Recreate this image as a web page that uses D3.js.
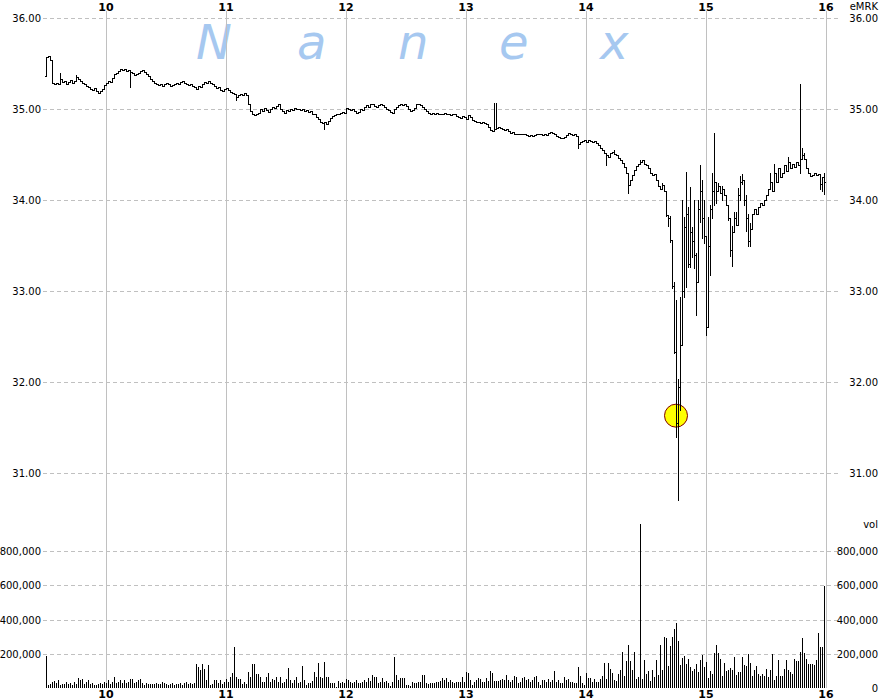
<!DOCTYPE html>
<html><head><meta charset="utf-8">
<script src="https://cdn.jsdelivr.net/npm/d3@7"></script>
<style>html,body{margin:0;padding:0;background:#fff;}svg{display:block}</style>
</head><body><svg id="c" width="880" height="700"></svg>
<script>
// ---------- data ----------
const symbol = "eMRK";
const volLabel = "vol";
const hourTicks = [10, 11, 12, 13, 14, 15, 16];
const priceTicks = [31, 32, 33, 34, 35, 36];
const volTicks = [200000, 400000, 600000, 800000];
const volRightTicks = [0, 200000, 400000, 600000, 800000];
const watermark = ["N", "a", "n", "e", "x"];
const sessionStart = 9.5;           // 9:30, one bar per minute
const firstOpen = 35.36;
const closes = [
35.57,35.58,35.54,35.29,35.27,35.29,35.28,35.33,35.30,35.31,
35.28,35.30,35.32,35.29,35.31,35.35,35.33,35.31,35.29,35.27,
35.25,35.24,35.22,35.21,35.23,35.20,35.18,35.20,35.22,35.26,
35.29,35.31,35.30,35.34,35.38,35.40,35.42,35.44,35.43,35.44,
35.42,35.43,35.41,35.40,35.37,35.38,35.40,35.42,35.43,35.41,
35.39,35.36,35.33,35.31,35.29,35.28,35.26,35.27,35.25,35.27,
35.29,35.28,35.25,35.26,35.27,35.29,35.28,35.30,35.31,35.29,
35.28,35.26,35.27,35.25,35.24,35.22,35.25,35.24,35.27,35.30,
35.29,35.31,35.29,35.27,35.25,35.23,35.24,35.21,35.20,35.22,
35.23,35.21,35.19,35.18,35.17,35.13,35.15,35.16,35.15,35.18,
35.15,35.06,34.98,34.95,34.93,34.94,34.96,35.00,34.98,35.01,
34.99,34.97,35.00,35.02,35.01,35.03,35.05,35.00,34.98,34.96,
34.99,34.98,35.00,34.99,35.01,35.00,35.00,34.99,35.00,34.98,
34.99,34.97,34.98,34.95,34.94,34.91,34.89,34.86,34.85,34.86,
34.83,34.87,34.90,34.92,34.93,34.95,34.94,34.96,34.97,34.96,
35.01,35.00,34.99,35.00,34.98,34.96,34.97,35.00,34.99,35.02,
35.04,35.02,35.05,35.05,35.03,35.02,35.04,35.05,35.04,35.02,
35.00,34.99,34.97,34.96,35.00,35.02,35.04,35.05,35.04,35.06,
35.03,35.00,34.98,34.99,35.01,35.05,35.06,35.04,35.02,35.00,
34.98,34.96,34.95,34.96,34.95,34.96,34.95,34.94,34.95,34.96,
34.95,34.94,34.93,34.95,34.94,34.92,34.91,34.90,34.92,34.91,
34.89,34.93,34.91,34.88,34.87,34.86,34.86,34.85,34.86,34.85,
34.84,34.80,34.77,34.76,34.78,34.79,34.80,34.79,34.78,34.77,
34.78,34.76,34.74,34.75,34.73,34.72,34.73,34.72,34.73,34.72,
34.71,34.70,34.71,34.70,34.71,34.72,34.73,34.72,34.71,34.72,
34.71,34.74,34.75,34.74,34.72,34.70,34.69,34.68,34.68,34.69,
34.71,34.74,34.73,34.71,34.72,34.70,34.62,34.64,34.65,34.66,
34.64,34.66,34.65,34.64,34.65,34.63,34.60,34.57,34.55,34.52,
34.50,34.47,34.52,34.53,34.51,34.50,34.46,34.44,34.41,34.36,
34.30,34.17,34.22,34.28,34.33,34.37,34.40,34.42,34.44,34.40,
34.38,34.35,34.30,34.27,34.29,34.22,34.15,34.12,34.16,34.10,
33.84,33.80,33.56,33.06,32.33,31.55,31.95,32.41,33.00,33.70,
33.85,33.30,33.65,33.55,33.40,33.10,33.90,34.10,33.80,33.60,
32.60,33.50,33.90,34.10,34.20,34.10,34.15,34.08,34.12,34.05,
33.95,33.80,33.45,33.65,33.80,33.72,34.05,34.20,34.22,34.00,
33.80,33.55,33.68,33.85,33.90,33.85,33.92,33.97,33.95,34.00,
34.05,34.12,34.20,34.10,34.30,34.20,34.35,34.25,34.30,34.38,
34.32,34.42,34.35,34.40,34.36,34.42,34.38,34.45,34.50,34.45,
34.35,34.30,34.26,34.28,34.30,34.27,34.29,34.18,34.25,34.20
];
// bar highs / lows that reach beyond open and close (minute index -> price)
const highExt = {7:35.40,15:35.37,224:35.07,225:35.07,284:34.55,297:34.44,308:34.19,
312:33.82,313:33.51,314:33.10,315:32.90,316:32.03,317:32.93,318:34.00,319:33.81,320:34.31,
321:33.92,322:34.14,323:33.70,324:34.00,325:33.42,326:34.00,327:34.38,328:34.22,329:34.00,
330:33.60,331:33.81,332:33.95,333:34.30,334:34.74,335:34.19,336:34.19,338:34.15,340:34.02,
342:33.71,343:33.71,344:33.87,345:33.87,346:34.13,347:34.26,348:34.29,349:34.20,350:34.05,
351:33.85,352:33.75,362:34.30,364:34.40,371:34.47,377:35.28,378:34.57,379:34.52,389:34.30};
const lowExt = {42:35.24,95:35.10,139:34.78,266:34.57,280:34.39,291:34.08,310:33.82,311:33.71,
312:33.54,313:33.03,314:32.32,315:31.40,316:30.70,317:31.69,318:32.41,319:32.93,320:33.04,
321:33.26,322:33.26,323:33.37,324:33.25,325:32.74,326:33.10,327:33.76,328:33.58,329:33.53,
330:32.52,331:32.60,332:33.18,333:33.80,334:33.95,335:33.97,338:34.00,341:33.78,342:33.38,
343:33.27,344:33.65,346:33.85,347:34.00,348:34.18,349:33.95,350:33.66,351:33.50,352:33.50,
377:34.30,387:34.12,388:34.10,389:34.07};
// volume per minute, thousands of shares
const volumesK = [
184,16,21,35,39,29,45,19,21,25,
33,21,29,16,35,21,58,49,50,25,
35,45,21,29,16,16,25,29,21,35,
29,45,21,35,64,29,35,45,29,45,
29,35,50,54,29,35,45,54,29,19,
29,25,25,21,25,29,21,25,35,29,
25,16,21,29,16,25,21,29,16,29,
35,21,29,21,29,142,122,103,142,113,
45,132,16,25,45,49,29,45,25,35,
54,35,64,89,239,64,54,54,25,35,
25,93,64,142,142,83,83,64,35,35,
64,87,35,54,45,64,35,64,29,35,
54,118,46,31,46,62,31,37,127,46,
17,31,31,40,94,65,146,62,56,152,
62,65,31,27,27,8,40,31,37,27,
50,46,37,27,37,46,27,31,37,46,
37,56,40,75,62,62,27,37,56,37,
42,27,12,37,181,75,46,56,56,60,
17,17,12,37,27,27,37,37,75,75,
27,23,27,31,27,37,37,42,56,46,
56,37,46,37,31,37,37,37,65,37,
94,85,46,17,37,46,56,52,37,37,
56,42,100,88,42,40,42,46,50,46,
75,46,37,46,69,65,31,37,56,62,
46,54,37,46,62,69,37,17,46,46,
37,50,37,46,100,37,46,27,31,62,
46,50,37,37,31,31,123,68,29,15,
85,58,58,35,50,35,35,54,70,145,
54,145,113,89,45,43,83,103,210,68,
155,250,155,103,213,54,64,960,54,165,
83,97,39,103,64,165,74,250,107,297,
291,126,248,297,345,380,272,132,175,184,
138,172,122,97,113,142,91,165,190,122,
150,58,97,83,206,250,206,170,70,148,
97,107,118,103,180,74,91,91,180,134,
126,196,148,70,107,126,83,70,80,70,
113,64,103,200,48,70,165,70,70,113,
161,103,93,80,170,155,155,210,291,204,
170,138,138,142,132,161,320,239,239,598
];
const marker = {time: 14.75, price: 31.63};

// ---------- chart ----------
const svg = d3.select("#c");
const x = d3.scaleLinear().domain([9.5, 16]).range([46, 826]);
const yP = d3.scaleLinear().domain([31, 36]).range([473, 18]);
const yV = d3.scaleLinear().domain([0, 800000]).range([688, 551]);
const gridColor = "#c0c0c0";
const font = "DejaVu Sans, Verdana, sans-serif";

const bars = closes.map((c, i) => {
  const o = i === 0 ? firstOpen : closes[i - 1];
  const h = Math.max(o, c, highExt[i] !== undefined ? highExt[i] : -Infinity);
  const l = Math.min(o, c, lowExt[i] !== undefined ? lowExt[i] : Infinity);
  return {t: sessionStart + i / 60, o, h, l, c, v: volumesK[i] * 1000};
});

// watermark
svg.append("g").selectAll("text").data(watermark).join("text")
  .attr("x", (d, i) => 196 + i * 101)
  .attr("y", 59)
  .attr("font-family", font)
  .attr("font-style", "italic")
  .attr("font-size", 48)
  .attr("fill", "#a6c8f0")
  .text(d => d);

// vertical grid
svg.append("g").selectAll("line").data(hourTicks).join("line")
  .attr("x1", d => Math.round(x(d)) + 0.5).attr("x2", d => Math.round(x(d)) + 0.5)
  .attr("y1", 11).attr("y2", 688)
  .attr("stroke", gridColor).attr("stroke-width", 1);

// horizontal dashed grids
const hg = svg.append("g").attr("stroke", gridColor).attr("stroke-dasharray", "4,3");
hg.selectAll("line.p").data(priceTicks).join("line").attr("class", "p")
  .attr("x1", 43).attr("x2", 838)
  .attr("y1", d => Math.round(yP(d)) + 0.5).attr("y2", d => Math.round(yP(d)) + 0.5);
hg.selectAll("line.v").data(volTicks).join("line").attr("class", "v")
  .attr("x1", 43).attr("x2", 838)
  .attr("y1", d => Math.round(yV(d)) + 0.5).attr("y2", d => Math.round(yV(d)) + 0.5);

// marker circle (under the bars)
svg.append("circle")
  .attr("cx", x(marker.time)).attr("cy", yP(marker.price)).attr("r", 11.5)
  .attr("fill", "#ffff00").attr("stroke", "#800000").attr("stroke-width", 1);

// price bars
const pg = svg.append("g").attr("shape-rendering", "crispEdges").attr("fill", "#000");
bars.forEach(b => {
  const bx = Math.round(x(b.t));
  const yh = Math.round(yP(b.h)), yl = Math.round(yP(b.l));
  pg.append("rect").attr("x", bx).attr("y", yh).attr("width", 1).attr("height", yl - yh + 1);
  pg.append("rect").attr("x", bx - 1).attr("y", Math.round(yP(b.o))).attr("width", 1).attr("height", 1);
  pg.append("rect").attr("x", bx + 1).attr("y", Math.round(yP(b.c))).attr("width", 1).attr("height", 1);
});

// volume bars
svg.append("g").attr("shape-rendering", "crispEdges").attr("fill", "#000")
  .selectAll("rect").data(bars).join("rect")
  .attr("x", d => Math.round(x(d.t)))
  .attr("y", d => Math.round(yV(d.v)))
  .attr("width", 1)
  .attr("height", d => 688 - Math.round(yV(d.v)));

// axis labels
const fmtP = d3.format(".2f"), fmtV = d3.format(",");
const lab = svg.append("g").attr("font-family", font).attr("font-size", 10).attr("fill", "#000");
lab.selectAll("text.pl").data(priceTicks).join("text").attr("class", "pl")
  .attr("x", 41).attr("y", d => yP(d) + 4).attr("text-anchor", "end").text(fmtP);
lab.selectAll("text.pr").data(priceTicks).join("text").attr("class", "pr")
  .attr("x", 878).attr("y", d => yP(d) + 4).attr("text-anchor", "end").text(fmtP);
lab.selectAll("text.vl").data(volTicks).join("text").attr("class", "vl")
  .attr("x", 41).attr("y", d => yV(d) + 4).attr("text-anchor", "end").text(fmtV);
lab.selectAll("text.vr").data(volRightTicks).join("text").attr("class", "vr")
  .attr("x", 878).attr("y", d => yV(d) + 4).attr("text-anchor", "end").text(fmtV);
lab.append("text").attr("x", 878).attr("y", 10).attr("text-anchor", "end").text(symbol);
lab.append("text").attr("x", 878).attr("y", 528).attr("text-anchor", "end").text(volLabel);

const tl = svg.append("g").attr("font-family", font).attr("font-size", 11)
  .attr("font-weight", "bold").attr("fill", "#000").attr("text-anchor", "middle");
tl.selectAll("text.t").data(hourTicks).join("text").attr("class", "t")
  .attr("x", d => x(d)).attr("y", 11).text(d => d);
tl.selectAll("text.b").data(hourTicks).join("text").attr("class", "b")
  .attr("x", d => x(d)).attr("y", 698).text(d => d);
</script>
</body></html>
